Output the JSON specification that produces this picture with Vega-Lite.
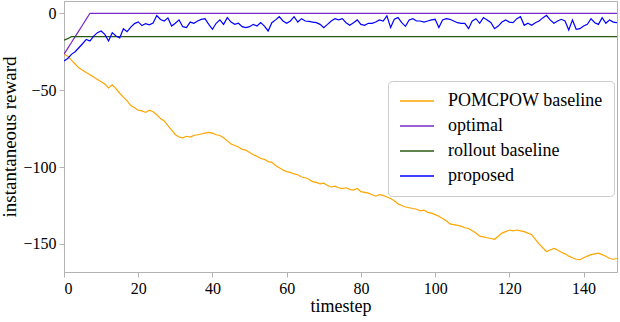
{
  "$schema": "https://vega.github.io/schema/vega-lite/v6.json",
  "autosize": "none",
  "width": 553,
  "height": 271,
  "padding": {"left": 64, "top": 1, "right": 3, "bottom": 50},
  "background": "white",
  "config": {
    "font": "Liberation Serif",
    "view": {"stroke": "#b3b3b3", "strokeWidth": 1},
    "axis": {"grid": false, "domainColor": "#b3b3b3", "tickColor": "#b3b3b3", "tickSize": 5, "labelFont": "Liberation Serif", "labelFontSize": 16, "labelColor": "#000000", "titleFont": "Liberation Serif", "titleFontSize": 18, "titleFontWeight": "normal", "titleColor": "#000000", "labelPadding": 3}
  },
  "datasets": {
    "series": [
      {"t":0,"POMCPOW baseline":-26.5,"optimal":-26.6,"rollout baseline":-17.5,"proposed":-31.1},
      {"t":1,"POMCPOW baseline":-28,"optimal":-22.8,"rollout baseline":-16.5,"proposed":-29.4},
      {"t":2,"POMCPOW baseline":-30.5,"optimal":-19,"rollout baseline":-15.2,"proposed":-26.7},
      {"t":3,"POMCPOW baseline":-33,"optimal":-15.2,"rollout baseline":-15.2,"proposed":-25},
      {"t":4,"POMCPOW baseline":-35.5,"optimal":-11.4,"rollout baseline":-15.2,"proposed":-22.4},
      {"t":5,"POMCPOW baseline":-37,"optimal":-7.6,"rollout baseline":-15.2,"proposed":-19.8},
      {"t":6,"POMCPOW baseline":-38.5,"optimal":-3.8,"rollout baseline":-15.2,"proposed":-17},
      {"t":7,"POMCPOW baseline":-40,"optimal":0,"rollout baseline":-15.2,"proposed":-18},
      {"t":8,"POMCPOW baseline":-41.5,"optimal":0,"rollout baseline":-15.2,"proposed":-14.8},
      {"t":9,"POMCPOW baseline":-43,"optimal":0,"rollout baseline":-15.2,"proposed":-12.6},
      {"t":10,"POMCPOW baseline":-44.5,"optimal":0,"rollout baseline":-15.2,"proposed":-11.5},
      {"t":11,"POMCPOW baseline":-46,"optimal":0,"rollout baseline":-15.2,"proposed":-13.7},
      {"t":12,"POMCPOW baseline":-48.5,"optimal":0,"rollout baseline":-15.2,"proposed":-18},
      {"t":13,"POMCPOW baseline":-46.5,"optimal":0,"rollout baseline":-15.2,"proposed":-12.6},
      {"t":14,"POMCPOW baseline":-49,"optimal":0,"rollout baseline":-15.2,"proposed":-14.8},
      {"t":15,"POMCPOW baseline":-52,"optimal":0,"rollout baseline":-15.2,"proposed":-16},
      {"t":16,"POMCPOW baseline":-54.5,"optimal":0,"rollout baseline":-15.2,"proposed":-10},
      {"t":17,"POMCPOW baseline":-57,"optimal":0,"rollout baseline":-15.2,"proposed":-12},
      {"t":18,"POMCPOW baseline":-60,"optimal":0,"rollout baseline":-15.2,"proposed":-9},
      {"t":19,"POMCPOW baseline":-61.5,"optimal":0,"rollout baseline":-15.2,"proposed":-6.7},
      {"t":20,"POMCPOW baseline":-63,"optimal":0,"rollout baseline":-15.2,"proposed":-5.6},
      {"t":21,"POMCPOW baseline":-63.5,"optimal":0,"rollout baseline":-15.2,"proposed":-8},
      {"t":22,"POMCPOW baseline":-64.5,"optimal":0,"rollout baseline":-15.2,"proposed":-6.7},
      {"t":23,"POMCPOW baseline":-63,"optimal":0,"rollout baseline":-15.2,"proposed":-7.5},
      {"t":24,"POMCPOW baseline":-64,"optimal":0,"rollout baseline":-15.2,"proposed":-6.3},
      {"t":25,"POMCPOW baseline":-66,"optimal":0,"rollout baseline":-15.2,"proposed":-1.5},
      {"t":26,"POMCPOW baseline":-68.5,"optimal":0,"rollout baseline":-15.2,"proposed":-4},
      {"t":27,"POMCPOW baseline":-70,"optimal":0,"rollout baseline":-15.2,"proposed":-5},
      {"t":28,"POMCPOW baseline":-73,"optimal":0,"rollout baseline":-15.2,"proposed":-3},
      {"t":29,"POMCPOW baseline":-76,"optimal":0,"rollout baseline":-15.2,"proposed":-8.3},
      {"t":30,"POMCPOW baseline":-79,"optimal":0,"rollout baseline":-15.2,"proposed":-6.5},
      {"t":31,"POMCPOW baseline":-80.5,"optimal":0,"rollout baseline":-15.2,"proposed":-4.3},
      {"t":32,"POMCPOW baseline":-81,"optimal":0,"rollout baseline":-15.2,"proposed":-8.7},
      {"t":33,"POMCPOW baseline":-80,"optimal":0,"rollout baseline":-15.2,"proposed":-9.3},
      {"t":34,"POMCPOW baseline":-80.5,"optimal":0,"rollout baseline":-15.2,"proposed":-5.7},
      {"t":35,"POMCPOW baseline":-79.5,"optimal":0,"rollout baseline":-15.2,"proposed":-6.5},
      {"t":36,"POMCPOW baseline":-79,"optimal":0,"rollout baseline":-15.2,"proposed":-5},
      {"t":37,"POMCPOW baseline":-78.5,"optimal":0,"rollout baseline":-15.2,"proposed":-4},
      {"t":38,"POMCPOW baseline":-78,"optimal":0,"rollout baseline":-15.2,"proposed":-3.5},
      {"t":39,"POMCPOW baseline":-77.5,"optimal":0,"rollout baseline":-15.2,"proposed":-7.2},
      {"t":40,"POMCPOW baseline":-78,"optimal":0,"rollout baseline":-15.2,"proposed":-10.4},
      {"t":41,"POMCPOW baseline":-79,"optimal":0,"rollout baseline":-15.2,"proposed":-6.5},
      {"t":42,"POMCPOW baseline":-79.5,"optimal":0,"rollout baseline":-15.2,"proposed":-4.3},
      {"t":43,"POMCPOW baseline":-81,"optimal":0,"rollout baseline":-15.2,"proposed":-7.2},
      {"t":44,"POMCPOW baseline":-83,"optimal":0,"rollout baseline":-15.2,"proposed":-2.8},
      {"t":45,"POMCPOW baseline":-85,"optimal":0,"rollout baseline":-15.2,"proposed":-5.7},
      {"t":46,"POMCPOW baseline":-86,"optimal":0,"rollout baseline":-15.2,"proposed":-7.2},
      {"t":47,"POMCPOW baseline":-87,"optimal":0,"rollout baseline":-15.2,"proposed":-6.5},
      {"t":48,"POMCPOW baseline":-88.5,"optimal":0,"rollout baseline":-15.2,"proposed":-8.7},
      {"t":49,"POMCPOW baseline":-89,"optimal":0,"rollout baseline":-15.2,"proposed":-9.3},
      {"t":50,"POMCPOW baseline":-90.5,"optimal":0,"rollout baseline":-15.2,"proposed":-8.7},
      {"t":51,"POMCPOW baseline":-92,"optimal":0,"rollout baseline":-15.2,"proposed":-7.2},
      {"t":52,"POMCPOW baseline":-93,"optimal":0,"rollout baseline":-15.2,"proposed":-8.3},
      {"t":53,"POMCPOW baseline":-94.5,"optimal":0,"rollout baseline":-15.2,"proposed":-6.1},
      {"t":54,"POMCPOW baseline":-95,"optimal":0,"rollout baseline":-15.2,"proposed":-8.3},
      {"t":55,"POMCPOW baseline":-96.5,"optimal":0,"rollout baseline":-15.2,"proposed":-11.5},
      {"t":56,"POMCPOW baseline":-97,"optimal":0,"rollout baseline":-15.2,"proposed":-6.1},
      {"t":57,"POMCPOW baseline":-99,"optimal":0,"rollout baseline":-15.2,"proposed":-4.3},
      {"t":58,"POMCPOW baseline":-100.5,"optimal":0,"rollout baseline":-15.2,"proposed":-2.2},
      {"t":59,"POMCPOW baseline":-102,"optimal":0,"rollout baseline":-15.2,"proposed":-5},
      {"t":60,"POMCPOW baseline":-103,"optimal":0,"rollout baseline":-15.2,"proposed":-6.5},
      {"t":61,"POMCPOW baseline":-103.5,"optimal":0,"rollout baseline":-15.2,"proposed":-5},
      {"t":62,"POMCPOW baseline":-104.5,"optimal":0,"rollout baseline":-15.2,"proposed":-2.2},
      {"t":63,"POMCPOW baseline":-105,"optimal":0,"rollout baseline":-15.2,"proposed":-5.7},
      {"t":64,"POMCPOW baseline":-106.5,"optimal":0,"rollout baseline":-15.2,"proposed":-3.5},
      {"t":65,"POMCPOW baseline":-107,"optimal":0,"rollout baseline":-15.2,"proposed":-5},
      {"t":66,"POMCPOW baseline":-108,"optimal":0,"rollout baseline":-15.2,"proposed":-5.3},
      {"t":67,"POMCPOW baseline":-109.5,"optimal":0,"rollout baseline":-15.2,"proposed":-5.7},
      {"t":68,"POMCPOW baseline":-110,"optimal":0,"rollout baseline":-15.2,"proposed":-6.1},
      {"t":69,"POMCPOW baseline":-111,"optimal":0,"rollout baseline":-15.2,"proposed":-7.2},
      {"t":70,"POMCPOW baseline":-110.5,"optimal":0,"rollout baseline":-15.2,"proposed":-9.3},
      {"t":71,"POMCPOW baseline":-112,"optimal":0,"rollout baseline":-15.2,"proposed":-7.2},
      {"t":72,"POMCPOW baseline":-113,"optimal":0,"rollout baseline":-15.2,"proposed":-5},
      {"t":73,"POMCPOW baseline":-112.5,"optimal":0,"rollout baseline":-15.2,"proposed":-3.5},
      {"t":74,"POMCPOW baseline":-113.5,"optimal":0,"rollout baseline":-15.2,"proposed":-4.3},
      {"t":75,"POMCPOW baseline":-114,"optimal":0,"rollout baseline":-15.2,"proposed":-3.5},
      {"t":76,"POMCPOW baseline":-113.5,"optimal":0,"rollout baseline":-15.2,"proposed":-6.1},
      {"t":77,"POMCPOW baseline":-114.5,"optimal":0,"rollout baseline":-15.2,"proposed":-7.8},
      {"t":78,"POMCPOW baseline":-115,"optimal":0,"rollout baseline":-15.2,"proposed":-6.1},
      {"t":79,"POMCPOW baseline":-114,"optimal":0,"rollout baseline":-15.2,"proposed":-4.3},
      {"t":80,"POMCPOW baseline":-116,"optimal":0,"rollout baseline":-15.2,"proposed":-7.2},
      {"t":81,"POMCPOW baseline":-116.5,"optimal":0,"rollout baseline":-15.2,"proposed":-7.8},
      {"t":82,"POMCPOW baseline":-117,"optimal":0,"rollout baseline":-15.2,"proposed":-6.5},
      {"t":83,"POMCPOW baseline":-118,"optimal":0,"rollout baseline":-15.2,"proposed":-6.5},
      {"t":84,"POMCPOW baseline":-119,"optimal":0,"rollout baseline":-15.2,"proposed":-5.7},
      {"t":85,"POMCPOW baseline":-118,"optimal":0,"rollout baseline":-15.2,"proposed":-4.3},
      {"t":86,"POMCPOW baseline":-118.5,"optimal":0,"rollout baseline":-15.2,"proposed":-5},
      {"t":87,"POMCPOW baseline":-119.5,"optimal":0,"rollout baseline":-15.2,"proposed":-1.7},
      {"t":88,"POMCPOW baseline":-120.5,"optimal":0,"rollout baseline":-15.2,"proposed":-9.3},
      {"t":89,"POMCPOW baseline":-122,"optimal":0,"rollout baseline":-15.2,"proposed":-3.9},
      {"t":90,"POMCPOW baseline":-124,"optimal":0,"rollout baseline":-15.2,"proposed":-2.8},
      {"t":91,"POMCPOW baseline":-125,"optimal":0,"rollout baseline":-15.2,"proposed":-6.1},
      {"t":92,"POMCPOW baseline":-126,"optimal":0,"rollout baseline":-15.2,"proposed":-8.5},
      {"t":93,"POMCPOW baseline":-126.5,"optimal":0,"rollout baseline":-15.2,"proposed":-4.3},
      {"t":94,"POMCPOW baseline":-127,"optimal":0,"rollout baseline":-15.2,"proposed":-3.5},
      {"t":95,"POMCPOW baseline":-127.5,"optimal":0,"rollout baseline":-15.2,"proposed":-5},
      {"t":96,"POMCPOW baseline":-128.5,"optimal":0,"rollout baseline":-15.2,"proposed":-5},
      {"t":97,"POMCPOW baseline":-128,"optimal":0,"rollout baseline":-15.2,"proposed":-5.7},
      {"t":98,"POMCPOW baseline":-129.5,"optimal":0,"rollout baseline":-15.2,"proposed":-5},
      {"t":99,"POMCPOW baseline":-130,"optimal":0,"rollout baseline":-15.2,"proposed":-4.3},
      {"t":100,"POMCPOW baseline":-131,"optimal":0,"rollout baseline":-15.2,"proposed":-3.9},
      {"t":101,"POMCPOW baseline":-132,"optimal":0,"rollout baseline":-15.2,"proposed":-9.3},
      {"t":102,"POMCPOW baseline":-133.5,"optimal":0,"rollout baseline":-15.2,"proposed":-4.3},
      {"t":103,"POMCPOW baseline":-135,"optimal":0,"rollout baseline":-15.2,"proposed":-3.5},
      {"t":104,"POMCPOW baseline":-137,"optimal":0,"rollout baseline":-15.2,"proposed":-3.9},
      {"t":105,"POMCPOW baseline":-137.5,"optimal":0,"rollout baseline":-15.2,"proposed":-5},
      {"t":106,"POMCPOW baseline":-138,"optimal":0,"rollout baseline":-15.2,"proposed":-6.1},
      {"t":107,"POMCPOW baseline":-138.5,"optimal":0,"rollout baseline":-15.2,"proposed":-6.5},
      {"t":108,"POMCPOW baseline":-139.5,"optimal":0,"rollout baseline":-15.2,"proposed":-6.5},
      {"t":109,"POMCPOW baseline":-140,"optimal":0,"rollout baseline":-15.2,"proposed":-10},
      {"t":110,"POMCPOW baseline":-141.5,"optimal":0,"rollout baseline":-15.2,"proposed":-5},
      {"t":111,"POMCPOW baseline":-143,"optimal":0,"rollout baseline":-15.2,"proposed":-3.5},
      {"t":112,"POMCPOW baseline":-145,"optimal":0,"rollout baseline":-15.2,"proposed":-6.5},
      {"t":113,"POMCPOW baseline":-145.5,"optimal":0,"rollout baseline":-15.2,"proposed":-2.8},
      {"t":114,"POMCPOW baseline":-146,"optimal":0,"rollout baseline":-15.2,"proposed":-4.3},
      {"t":115,"POMCPOW baseline":-146.5,"optimal":0,"rollout baseline":-15.2,"proposed":-6},
      {"t":116,"POMCPOW baseline":-147,"optimal":0,"rollout baseline":-15.2,"proposed":-10},
      {"t":117,"POMCPOW baseline":-145,"optimal":0,"rollout baseline":-15.2,"proposed":-8.3},
      {"t":118,"POMCPOW baseline":-143,"optimal":0,"rollout baseline":-15.2,"proposed":-5.7},
      {"t":119,"POMCPOW baseline":-142,"optimal":0,"rollout baseline":-15.2,"proposed":-4.3},
      {"t":120,"POMCPOW baseline":-141,"optimal":0,"rollout baseline":-15.2,"proposed":-5.7},
      {"t":121,"POMCPOW baseline":-141.5,"optimal":0,"rollout baseline":-15.2,"proposed":-6.1},
      {"t":122,"POMCPOW baseline":-141,"optimal":0,"rollout baseline":-15.2,"proposed":-3.5},
      {"t":123,"POMCPOW baseline":-141.5,"optimal":0,"rollout baseline":-15.2,"proposed":-2.2},
      {"t":124,"POMCPOW baseline":-142,"optimal":0,"rollout baseline":-15.2,"proposed":-7.8},
      {"t":125,"POMCPOW baseline":-143,"optimal":0,"rollout baseline":-15.2,"proposed":-6.5},
      {"t":126,"POMCPOW baseline":-144,"optimal":0,"rollout baseline":-15.2,"proposed":-7.8},
      {"t":127,"POMCPOW baseline":-147,"optimal":0,"rollout baseline":-15.2,"proposed":-6.1},
      {"t":128,"POMCPOW baseline":-150,"optimal":0,"rollout baseline":-15.2,"proposed":-5},
      {"t":129,"POMCPOW baseline":-152.5,"optimal":0,"rollout baseline":-15.2,"proposed":-3},
      {"t":130,"POMCPOW baseline":-155,"optimal":0,"rollout baseline":-15.2,"proposed":-1.3},
      {"t":131,"POMCPOW baseline":-154,"optimal":0,"rollout baseline":-15.2,"proposed":-4.3},
      {"t":132,"POMCPOW baseline":-153,"optimal":0,"rollout baseline":-15.2,"proposed":-6.5},
      {"t":133,"POMCPOW baseline":-154,"optimal":0,"rollout baseline":-15.2,"proposed":-5},
      {"t":134,"POMCPOW baseline":-155.5,"optimal":0,"rollout baseline":-15.2,"proposed":-3.9},
      {"t":135,"POMCPOW baseline":-156.5,"optimal":0,"rollout baseline":-15.2,"proposed":-5},
      {"t":136,"POMCPOW baseline":-158,"optimal":0,"rollout baseline":-15.2,"proposed":-10.9},
      {"t":137,"POMCPOW baseline":-159,"optimal":0,"rollout baseline":-15.2,"proposed":-4.3},
      {"t":138,"POMCPOW baseline":-160,"optimal":0,"rollout baseline":-15.2,"proposed":-10.4},
      {"t":139,"POMCPOW baseline":-160.3,"optimal":0,"rollout baseline":-15.2,"proposed":-10},
      {"t":140,"POMCPOW baseline":-159,"optimal":0,"rollout baseline":-15.2,"proposed":-8.3},
      {"t":141,"POMCPOW baseline":-158,"optimal":0,"rollout baseline":-15.2,"proposed":-7.2},
      {"t":142,"POMCPOW baseline":-157,"optimal":0,"rollout baseline":-15.2,"proposed":-3.5},
      {"t":143,"POMCPOW baseline":-156.5,"optimal":0,"rollout baseline":-15.2,"proposed":-6.1},
      {"t":144,"POMCPOW baseline":-156,"optimal":0,"rollout baseline":-15.2,"proposed":-7.2},
      {"t":145,"POMCPOW baseline":-157,"optimal":0,"rollout baseline":-15.2,"proposed":-2.8},
      {"t":146,"POMCPOW baseline":-158,"optimal":0,"rollout baseline":-15.2,"proposed":-6.5},
      {"t":147,"POMCPOW baseline":-159.5,"optimal":0,"rollout baseline":-15.2,"proposed":-4.3},
      {"t":148,"POMCPOW baseline":-160,"optimal":0,"rollout baseline":-15.2,"proposed":-5.7},
      {"t":149,"POMCPOW baseline":-159.5,"optimal":0,"rollout baseline":-15.2,"proposed":-6.1}
    ]
  },
  "data": {"name": "series"},
  "transform": [
    {"fold": ["POMCPOW baseline", "optimal", "rollout baseline", "proposed"], "as": ["series", "reward"]}
  ],
  "mark": {"type": "line", "strokeWidth": 1.2, "clip": true},
  "encoding": {
    "x": {"field": "t", "type": "quantitative", "title": "timestep",
          "scale": {"domain": [0, 149], "nice": false, "zero": false},
          "axis": {"values": [0, 20, 40, 60, 80, 100, 120, 140], "titlePadding": 1, "titleFontSize": 18}},
    "y": {"field": "reward", "type": "quantitative", "title": "instantaneous reward",
          "scale": {"domain": [-168.3, 8], "nice": false, "zero": false},
          "axis": {"values": [-150, -100, -50, 0], "titlePadding": 3, "titleFontSize": 19}},
    "color": {"field": "series", "type": "nominal",
              "scale": {"domain": ["POMCPOW baseline", "optimal", "rollout baseline", "proposed"],
                        "range": ["#FFA500", "#7a28c8", "#2a5a10", "#0000FF"]},
              "legend": {"title": null, "orient": "none", "legendX": 324, "legendY": 80,
                         "symbolType": "stroke", "symbolSize": 1156, "symbolStrokeWidth": 1.5,
                         "clipHeight": 18,
                         "labelFont": "Liberation Serif", "labelFontSize": 18, "labelColor": "#000000",
                         "labelOffset": 13, "rowPadding": 7, "padding": 11,
                         "strokeColor": "#cccccc", "cornerRadius": 4, "fillColor": "white"}},
    "order": {"field": "t", "type": "quantitative"}
  }
}
